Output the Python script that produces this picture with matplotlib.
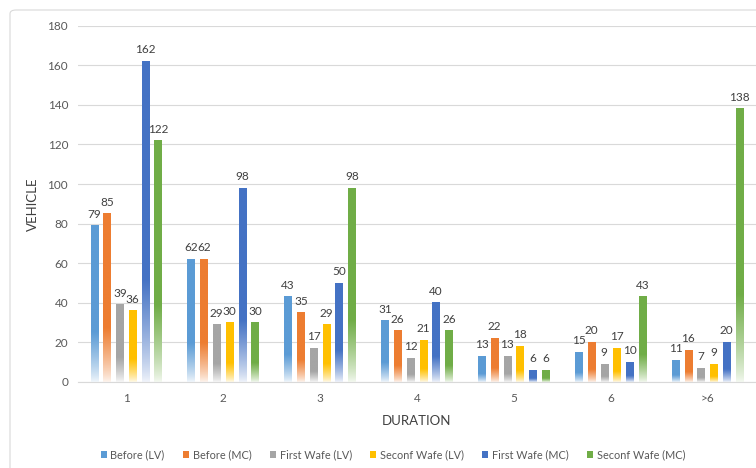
import numpy as np
import matplotlib
matplotlib.use("Agg")
import matplotlib.pyplot as plt
from matplotlib.colors import to_rgb
from matplotlib.patches import FancyBboxPatch, Patch

plt.rcParams["font.family"] = ["Lato", "DejaVu Sans"]

# vehicles per duration class
durations = ["1", "2", "3", "4", "5", "6", ">6"]
series_names = ["Before (LV)", "Before (MC)", "First Wafe (LV)",
                "Seconf Wafe (LV)", "First Wafe (MC)", "Seconf Wafe (MC)"]
before_lv = [79, 62, 43, 31, 13, 15, 11]
before_mc = [85, 62, 35, 26, 22, 20, 16]
first_lv = [39, 29, 17, 12, 13, 9, 7]
second_lv = [36, 30, 29, 21, 18, 17, 9]
first_mc = [162, 98, 50, 40, 6, 10, 20]
second_mc = [122, 30, 98, 26, 6, 43, 138]
colors = ["#5B9BD5", "#ED7D31", "#A5A5A5", "#FFC000", "#4472C4", "#70AD47"]

all_series = [before_lv, before_mc, first_lv, second_lv, first_mc, second_mc]

fig = plt.figure(figsize=(7.56, 4.68), dpi=100)
ax = fig.add_axes([0.103, 0.184, 0.897, 0.761])

# light rounded frame around the chart
frame = FancyBboxPatch((10 / 756, -0.05), 1.1, 1 - 10 / 468 + 0.05,
                       boxstyle="round,pad=0,rounding_size=0.008",
                       transform=fig.transFigure, facecolor="none",
                       edgecolor="#d9d9d9", linewidth=0.8)
fig.patches.append(frame)

x = np.arange(len(durations))
step = 0.132
width = 0.078


def gradient_image(color):
    # near-white at the base, full colour from about 30% of the bar upwards
    rgb = np.array(to_rgb(color))
    t = np.linspace(0, 1, 200)
    mix = np.clip(t / 0.32, 0, 1)
    mix = 0.08 + 0.92 * (mix ** 0.8)
    mix = mix[:, None]
    img = (1 - mix) * np.ones(3) + mix * rgb
    return img[:, None, :]


for i, (vals, col) in enumerate(zip(all_series, colors)):
    offs = x + (i - 2.5) * step
    bars = ax.bar(offs, vals, width, color="none", edgecolor="none", zorder=2)
    img = gradient_image(col)
    for b, v in zip(bars, vals):
        x0 = b.get_x()
        ax.imshow(img, extent=[x0, x0 + b.get_width(), 0, v], origin="lower",
                  aspect="auto", zorder=2, interpolation="bilinear")
        ax.text(b.get_x() + b.get_width() / 2, v + 3, str(v),
                ha="center", va="bottom", fontsize=8.5, color="#404040")

ax.set_xlim(-0.5, len(durations) - 0.5)
ax.set_ylim(0, 180)
ax.set_yticks(range(0, 181, 20))
ax.set_xticks(x)
ax.set_xticklabels(durations)
ax.tick_params(axis="both", length=0, labelsize=8.5, labelcolor="#595959")
ax.tick_params(axis="x", pad=8)
ax.tick_params(axis="y", pad=7)
ax.grid(axis="y", color="#d9d9d9", linewidth=0.8, zorder=0)
ax.set_axisbelow(True)
for s in ["top", "right", "left"]:
    ax.spines[s].set_visible(False)
ax.spines["bottom"].set_color("#d9d9d9")

ax.set_xlabel("DURATION", fontsize=9.5, color="#404040", labelpad=8)
ax.set_ylabel("VEHICLE", fontsize=9.5, color="#404040", labelpad=6)

handles = [Patch(facecolor=c, edgecolor="none") for c in colors]
fig.legend(handles, series_names, loc="center", bbox_to_anchor=(0.52, 0.028),
           ncol=6, frameon=False, fontsize=7.8, handlelength=0.55,
           handleheight=0.55, handletextpad=0.35, columnspacing=1.7,
           labelcolor="#595959")

fig.savefig("out.png", dpi=100)
